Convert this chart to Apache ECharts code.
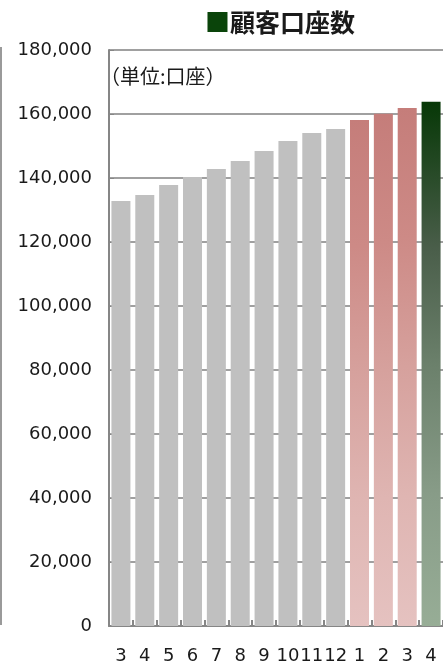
<!DOCTYPE html>
<html>
<head>
<meta charset="utf-8">
<script src="https://cdn.jsdelivr.net/npm/echarts@6/dist/echarts.min.js"></script>
<style>
  html, body { margin: 0; padding: 0; background: #fff; }
  #chart { width: 443px; height: 670px; }
</style>
</head>
<body>
<div id="chart"></div>
<script>
// Month labels (March of one year through April of the following year)
const months = ['3', '4', '5', '6', '7', '8', '9', '10', '11', '12', '1', '2', '3', '4'];
// Customer account counts per month
const accounts = [132800, 134700, 137800, 140300, 142800, 145300, 148400, 151600, 154100, 155300, 158100, 160100, 161900, 163800];
// Bar style group per month: earlier months, recent months, latest month
const groups = ['past', 'past', 'past', 'past', 'past', 'past', 'past', 'past', 'past', 'past', 'recent', 'recent', 'recent', 'latest'];
const yTicks = { min: 0, max: 180000, step: 20000 };

const CJK = '"Noto Sans CJK JP", "Noto Sans", sans-serif';
const NUM = '"DejaVu Sans", "Noto Sans", sans-serif';

const fills = {
  past: '#c0c0c0',
  recent: new echarts.graphic.LinearGradient(0, 0, 0, 1, [
    { offset: 0, color: '#c57d7a' },
    { offset: 0.25, color: '#cd8a86' },
    { offset: 0.5, color: '#d6a19d' },
    { offset: 0.75, color: '#dfb5b2' },
    { offset: 1, color: '#e5c2c0' }
  ]),
  latest: new echarts.graphic.LinearGradient(0, 0, 0, 1, [
    { offset: 0, color: '#073807' },
    { offset: 0.28, color: '#4a5e4a' },
    { offset: 0.5, color: '#6b806b' },
    { offset: 0.75, color: '#889c88' },
    { offset: 1, color: '#97ad96' }
  ])
};

const chart = echarts.init(document.getElementById('chart'), null, { renderer: 'canvas' });

chart.setOption({
  animation: false,
  backgroundColor: '#ffffff',
  title: {
    text: '{sq|■}{t|顧客口座数}',
    left: 275,
    textAlign: 'center',
    top: 5,
    textStyle: {
      rich: {
        sq: { fontFamily: CJK, fontSize: 25, color: '#0a440a', fontWeight: 'bold' },
        t: { fontFamily: CJK, fontSize: 25, color: '#1a1a1a', fontWeight: 'bold' }
      }
    }
  },
  graphic: [
    {
      type: 'text',
      left: 100,
      top: 66,
      style: { text: '（単位:口座）', font: '20px ' + CJK, fill: '#1a1a1a' }
    },
    {
      type: 'line',
      shape: { x1: 1, y1: 47, x2: 1, y2: 625 },
      style: { stroke: '#9a9a9a', lineWidth: 2 }
    }
  ],
  grid: { left: 109, top: 50, width: 340, height: 576, containLabel: false },
  xAxis: {
    type: 'category',
    data: months,
    boundaryGap: true,
    axisLine: { show: true, lineStyle: { color: '#868686', width: 2 } },
    axisTick: { show: true, inside: true, length: 6, alignWithLabel: false, lineStyle: { color: '#868686', width: 2 } },
    axisLabel: { interval: 0, margin: 21, fontSize: 18, fontFamily: NUM, color: '#1a1a1a' }
  },
  yAxis: {
    type: 'value',
    min: yTicks.min,
    max: yTicks.max,
    interval: yTicks.step,
    axisLine: { show: true, lineStyle: { color: '#868686', width: 2 } },
    axisTick: { show: true, inside: true, length: 5, lineStyle: { color: '#868686', width: 1 } },
    splitLine: { show: true, lineStyle: { color: '#a0a0a0', width: 2 } },
    axisLabel: {
      margin: 17,
      fontSize: 18,
      fontFamily: NUM,
      color: '#1a1a1a',
      formatter: v => v.toLocaleString('en-US')
    }
  },
  series: [{
    type: 'bar',
    barWidth: 19,
    data: accounts.map((v, i) => ({ value: v, itemStyle: { color: fills[groups[i]] } }))
  }]
});
</script>
</body>
</html>
